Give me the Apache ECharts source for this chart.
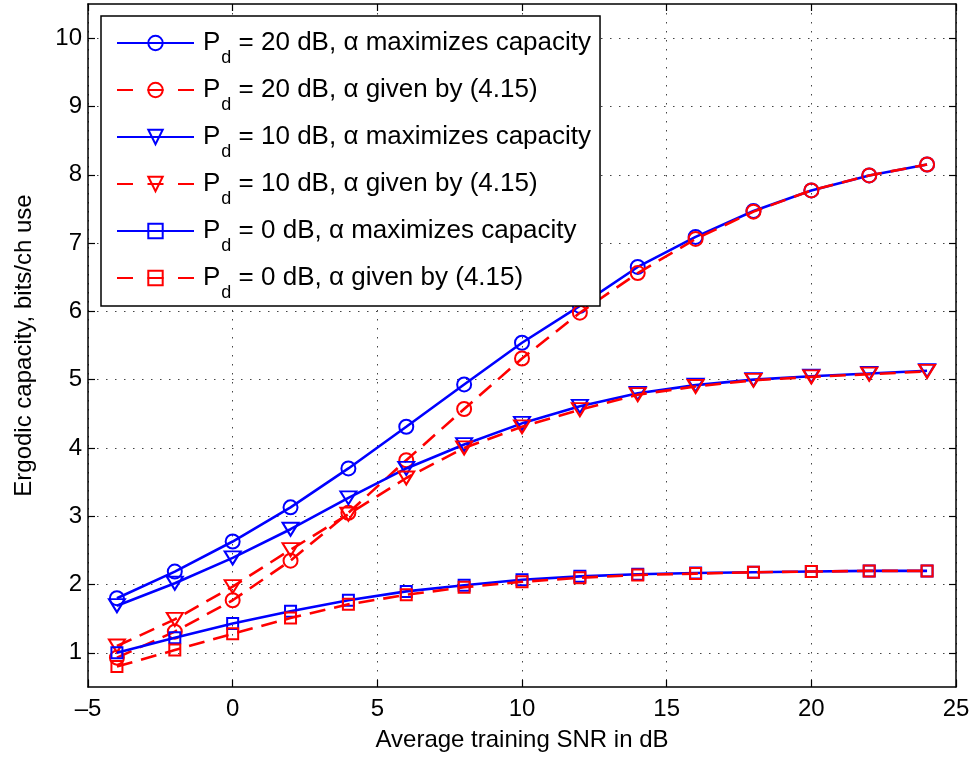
<!DOCTYPE html>
<html>
<head>
<meta charset="utf-8">
<title>Ergodic capacity</title>
<script src="https://cdn.jsdelivr.net/npm/echarts@6/dist/echarts.min.js"></script>
<style>
  html, body { margin: 0; padding: 0; background: #fff; }
  #chart { width: 976px; height: 760px; }
</style>
</head>
<body>
<div id="chart"></div>
<script>
// training SNR (dB)
var snr = [-4, -2, 0, 2, 4, 6, 8, 10, 12, 14, 16, 18, 20, 22, 24];

// capacity, bits/ch use
var pd20Max   = [1.80, 2.19, 2.63, 3.13, 3.70, 4.31, 4.93, 5.54, 6.08, 6.65, 7.09, 7.47, 7.77, 7.99, 8.15];
var pd20Given = [0.93, 1.31, 1.77, 2.35, 3.05, 3.82, 4.57, 5.31, 5.98, 6.56, 7.06, 7.46, 7.77, 7.99, 8.15];
var pd10Max   = [1.69, 2.02, 2.39, 2.81, 3.27, 3.70, 4.05, 4.36, 4.61, 4.80, 4.92, 5.00, 5.05, 5.09, 5.13];
var pd10Given = [1.10, 1.49, 1.97, 2.51, 3.03, 3.56, 4.00, 4.31, 4.56, 4.78, 4.90, 4.99, 5.04, 5.08, 5.12];
var pd0Max    = [1.00, 1.22, 1.43, 1.61, 1.77, 1.90, 1.99, 2.07, 2.12, 2.15, 2.17, 2.18, 2.19, 2.20, 2.20];
var pd0Given  = [0.80, 1.04, 1.28, 1.51, 1.71, 1.85, 1.96, 2.04, 2.10, 2.14, 2.16, 2.18, 2.19, 2.20, 2.20];

var yTicks = [1, 2, 3, 4, 5, 6, 7, 8, 9, 10];
var legendText = [
  ' = 20 dB, \u03b1 maximizes capacity',
  ' = 20 dB, \u03b1 given by (4.15)',
  ' = 10 dB, \u03b1 maximizes capacity',
  ' = 10 dB, \u03b1 given by (4.15)',
  ' = 0 dB, \u03b1 maximizes capacity',
  ' = 0 dB, \u03b1 given by (4.15)'
];

var FONT = "'Liberation Sans', Arial, Helvetica, sans-serif";
var BLUE = '#0000ff';
var RED = '#ff0000';
var triDown = 'path://M0,0 L16,0 L8,13 Z';

function pairs(ys) {
  return snr.map(function (x, i) { return [x, ys[i]]; });
}

function mkSeries(idx, ys, color, dashed, symbol, size) {
  return {
    name: 'Pd' + legendText[idx],
    type: 'line',
    data: pairs(ys),
    symbol: symbol,
    symbolSize: size,
    showSymbol: true,
    lineStyle: { color: color, width: 2.6, type: dashed ? [16, 9] : 'solid' },
    itemStyle: { color: 'transparent', borderColor: color, borderWidth: 2 },
    emphasis: { disabled: true },
    z: 2 + idx
  };
}

var series = [
  mkSeries(0, pd20Max, BLUE, false, 'circle', 14),
  mkSeries(1, pd20Given, RED, true, 'circle', 14),
  mkSeries(2, pd10Max, BLUE, false, triDown, [16, 13]),
  mkSeries(3, pd10Given, RED, true, triDown, [16, 13]),
  mkSeries(4, pd0Max, BLUE, false, 'rect', 11),
  mkSeries(5, pd0Given, RED, true, 'rect', 11)
];

var legendData = series.map(function (s, i) {
  var item = { name: s.name };
  if (i % 2 === 1) item.lineStyle = { type: [16, 14.5] };
  return item;
});

var tickStyle = { inside: true, length: 7, lineStyle: { color: '#000', width: 1.2 } };
var lineStyleAxis = { show: true, onZero: false, lineStyle: { color: '#000', width: 1.5 } };
var gridDots = { show: true, lineStyle: { color: '#444', width: 1, type: [1.5, 7.5] } };

var chart = echarts.init(document.getElementById('chart'));
chart.setOption({
  animation: false,
  textStyle: { fontFamily: FONT },
  grid: { left: 88, right: 20, top: 4, bottom: 73, containLabel: false },
  legend: {
    data: legendData,
    orient: 'vertical',
    left: 101,
    top: 16,
    padding: [12, 9, 4, 15],
    itemGap: 8,
    itemWidth: 77,
    itemHeight: 18,
    backgroundColor: '#fff',
    borderColor: '#000',
    borderWidth: 1.5,
    borderRadius: 0,
    selectedMode: false,
    formatter: function (name) {
      return '{p|P}{s|d}{t|' + name.slice(2) + '}';
    },
    textStyle: {
      color: '#000',
      rich: {
        p: { fontFamily: FONT, fontSize: 26, lineHeight: 30, padding: [0, 0, 0, 4] },
        s: { fontFamily: FONT, fontSize: 18, lineHeight: 20, verticalAlign: 'top', padding: [21, 0, 0, 1] },
        t: { fontFamily: FONT, fontSize: 26, lineHeight: 30 }
      }
    }
  },
  xAxis: [{
    type: 'value',
    position: 'bottom',
    min: -5, max: 25, interval: 5,
    axisLine: lineStyleAxis,
    axisTick: tickStyle,
    splitLine: gridDots,
    axisLabel: {
      color: '#000', fontSize: 24, margin: 10,
      formatter: function (v) { return v < 0 ? '\u2013' + Math.abs(v) : String(v); }
    },
    name: 'Average training SNR in dB',
    nameLocation: 'middle',
    nameGap: 41,
    nameTextStyle: { color: '#000', fontSize: 24 }
  }, {
    type: 'value',
    position: 'top',
    min: -5, max: 25, interval: 5,
    axisLine: lineStyleAxis,
    axisTick: tickStyle,
    axisLabel: { show: false },
    splitLine: { show: false }
  }],
  yAxis: [{
    type: 'value',
    position: 'left',
    min: 0.5, max: 10.5,
    axisLine: lineStyleAxis,
    axisTick: Object.assign({ customValues: yTicks }, tickStyle),
    splitLine: gridDots,
    axisLabel: { color: '#000', fontSize: 24, margin: 6, customValues: yTicks },
    name: 'Ergodic capacity, bits/ch use',
    nameLocation: 'middle',
    nameGap: 52,
    nameTextStyle: { color: '#000', fontSize: 24 }
  }, {
    type: 'value',
    position: 'right',
    min: 0.5, max: 10.5,
    axisLine: lineStyleAxis,
    axisTick: Object.assign({ customValues: yTicks }, tickStyle),
    axisLabel: { show: false, customValues: yTicks },
    splitLine: { show: false }
  }],
  series: series
});
</script>
</body>
</html>
